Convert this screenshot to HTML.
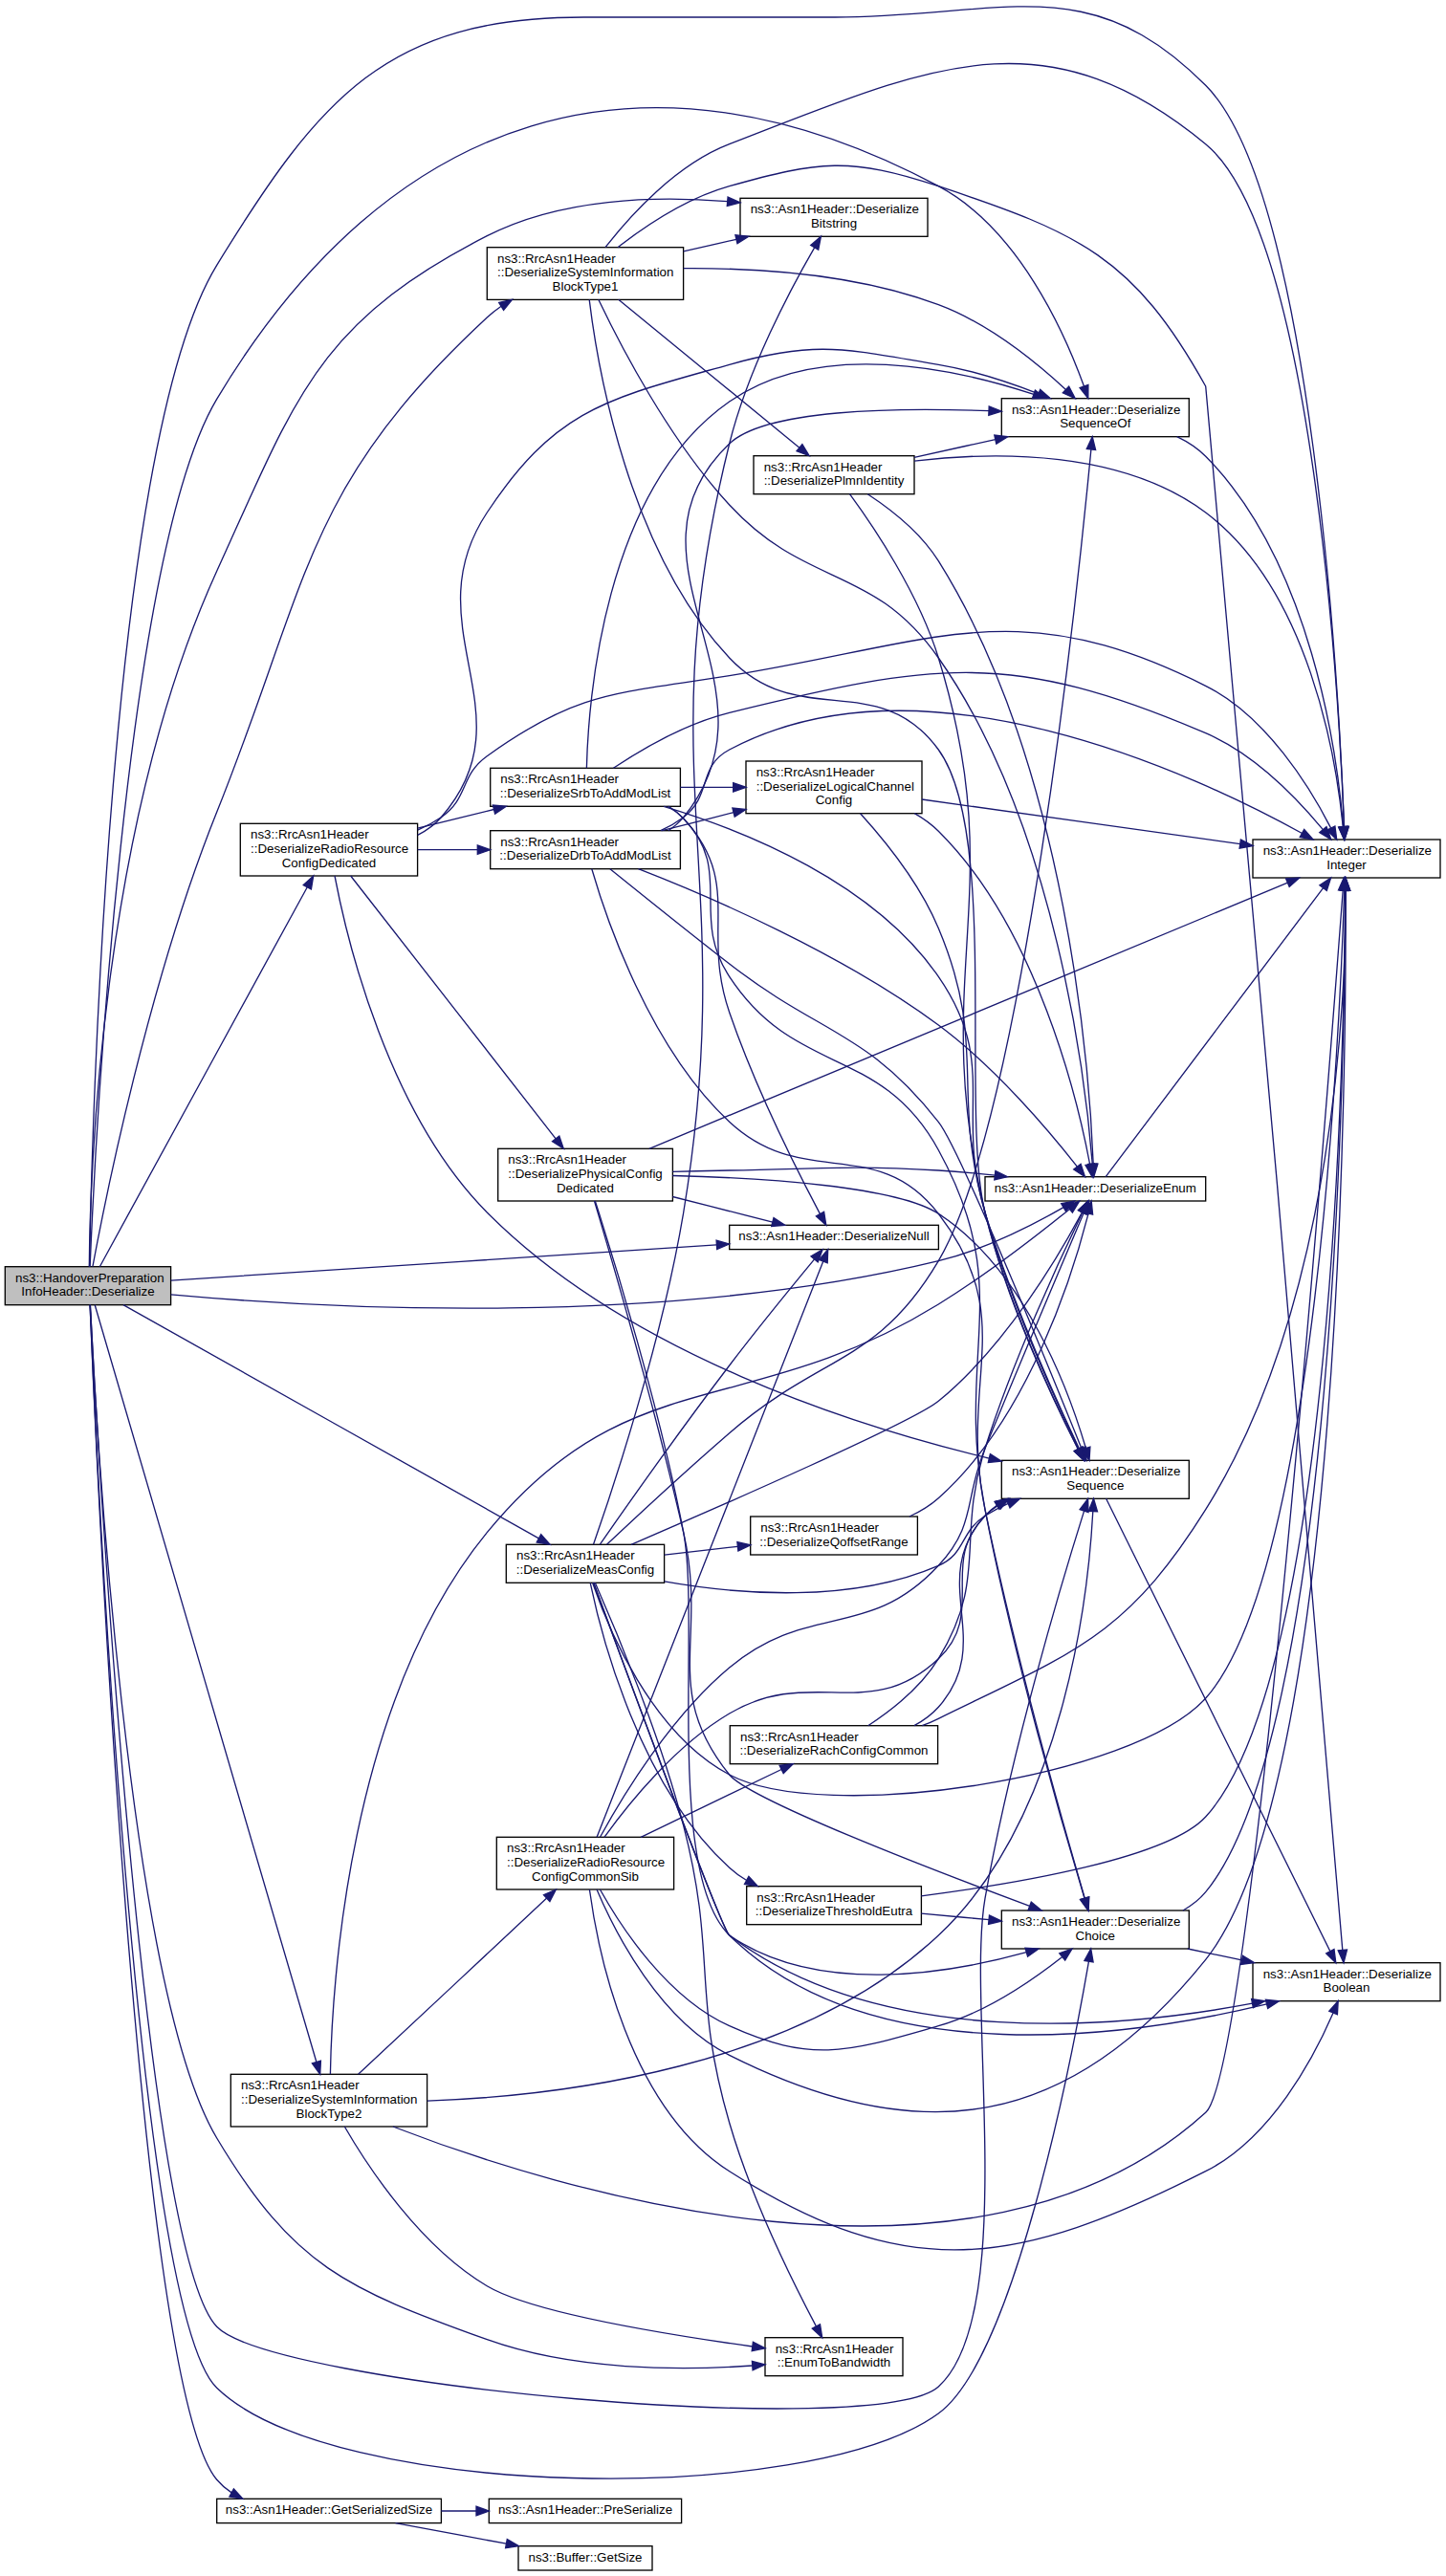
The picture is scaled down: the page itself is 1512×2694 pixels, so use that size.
<!DOCTYPE html>
<html><head><meta charset="utf-8"><title>ns3::HandoverPreparationInfoHeader::Deserialize</title>
<style>html,body{margin:0;padding:0;background:#fff}svg{display:block}text{font-family:"Liberation Sans","Helvetica","Arial",sans-serif;font-size:13.33px;fill:#000}.e{fill:none;stroke:#191970;stroke-width:1.33}.a{fill:#191970;stroke:#191970;stroke-width:1.33}.n{fill:#fff;stroke:#000;stroke-width:1.33}.r{fill:#bfbfbf;stroke:#000;stroke-width:1.33}</style></head><body>
<svg xmlns="http://www.w3.org/2000/svg" width="1512" height="2694" viewBox="0 0 1512 2694">
<rect x="0" y="0" width="1512" height="2694" fill="#fff"/>
<rect class="r" x="5.3" y="1324.7" width="173.3" height="40"/>
<text x="16" y="1340.7">ns3::HandoverPreparation</text>
<text x="92" y="1355.3" text-anchor="middle">InfoHeader::Deserialize</text>
<rect class="n" x="251.3" y="861.3" width="185.3" height="54.7"/>
<text x="262" y="877.3">ns3::RrcAsn1Header</text>
<text x="262" y="892">::DeserializeRadioResource</text>
<text x="344" y="906.7" text-anchor="middle">ConfigDedicated</text>
<rect class="n" x="241.3" y="2169.3" width="205.3" height="54.7"/>
<text x="252" y="2185.3">ns3::RrcAsn1Header</text>
<text x="252" y="2200">::DeserializeSystemInformation</text>
<text x="344" y="2214.7" text-anchor="middle">BlockType2</text>
<rect class="n" x="226.7" y="2613.3" width="234.7" height="25.3"/>
<text x="344" y="2629.3" text-anchor="middle">ns3::Asn1Header::GetSerializedSize</text>
<rect class="n" x="509.3" y="258.7" width="205.3" height="54.7"/>
<text x="520" y="274.7">ns3::RrcAsn1Header</text>
<text x="520" y="289.3">::DeserializeSystemInformation</text>
<text x="612" y="304" text-anchor="middle">BlockType1</text>
<rect class="n" x="512.7" y="803.3" width="198.7" height="40"/>
<text x="523.3" y="819.3">ns3::RrcAsn1Header</text>
<text x="612" y="834" text-anchor="middle">::DeserializeSrbToAddModList</text>
<rect class="n" x="512.7" y="868.7" width="198.7" height="40"/>
<text x="523.3" y="884.7">ns3::RrcAsn1Header</text>
<text x="612" y="899.3" text-anchor="middle">::DeserializeDrbToAddModList</text>
<rect class="n" x="520.7" y="1201.3" width="182.7" height="54.7"/>
<text x="531.3" y="1217.3">ns3::RrcAsn1Header</text>
<text x="531.3" y="1232">::DeserializePhysicalConfig</text>
<text x="612" y="1246.7" text-anchor="middle">Dedicated</text>
<rect class="n" x="529.3" y="1615.3" width="165.3" height="40"/>
<text x="540" y="1631.3">ns3::RrcAsn1Header</text>
<text x="612" y="1646" text-anchor="middle">::DeserializeMeasConfig</text>
<rect class="n" x="519.3" y="1921.3" width="185.3" height="54.7"/>
<text x="530" y="1937.3">ns3::RrcAsn1Header</text>
<text x="530" y="1952">::DeserializeRadioResource</text>
<text x="612" y="1966.7" text-anchor="middle">ConfigCommonSib</text>
<rect class="n" x="511.3" y="2613.3" width="201.3" height="25.3"/>
<text x="612" y="2629.3" text-anchor="middle">ns3::Asn1Header::PreSerialize</text>
<rect class="n" x="542" y="2662.7" width="140" height="25.3"/>
<text x="612" y="2678.7" text-anchor="middle">ns3::Buffer::GetSize</text>
<rect class="n" x="774" y="207.3" width="196" height="40"/>
<text x="784.7" y="223.3">ns3::Asn1Header::Deserialize</text>
<text x="872" y="238" text-anchor="middle">Bitstring</text>
<rect class="n" x="788" y="476.7" width="168" height="40"/>
<text x="798.7" y="492.7">ns3::RrcAsn1Header</text>
<text x="872" y="507.3" text-anchor="middle">::DeserializePlmnIdentity</text>
<rect class="n" x="780" y="796" width="184" height="54.7"/>
<text x="790.7" y="812">ns3::RrcAsn1Header</text>
<text x="790.7" y="826.7">::DeserializeLogicalChannel</text>
<text x="872" y="841.3" text-anchor="middle">Config</text>
<rect class="n" x="762.7" y="1281.3" width="218.7" height="25.3"/>
<text x="872" y="1297.3" text-anchor="middle">ns3::Asn1Header::DeserializeNull</text>
<rect class="n" x="784.7" y="1586" width="174.7" height="40"/>
<text x="795.3" y="1602">ns3::RrcAsn1Header</text>
<text x="872" y="1616.7" text-anchor="middle">::DeserializeQoffsetRange</text>
<rect class="n" x="763.3" y="1804.7" width="217.3" height="40"/>
<text x="774" y="1820.7">ns3::RrcAsn1Header</text>
<text x="872" y="1835.3" text-anchor="middle">::DeserializeRachConfigCommon</text>
<rect class="n" x="780.7" y="1972.7" width="182.7" height="40"/>
<text x="791.3" y="1988.7">ns3::RrcAsn1Header</text>
<text x="872" y="2003.3" text-anchor="middle">::DeserializeThresholdEutra</text>
<rect class="n" x="800" y="2444.7" width="144" height="40"/>
<text x="810.7" y="2460.7">ns3::RrcAsn1Header</text>
<text x="872" y="2475.3" text-anchor="middle">::EnumToBandwidth</text>
<rect class="n" x="1047.3" y="416.7" width="196" height="40"/>
<text x="1058" y="432.7">ns3::Asn1Header::Deserialize</text>
<text x="1145.3" y="447.3" text-anchor="middle">SequenceOf</text>
<rect class="n" x="1030" y="1230.7" width="230.7" height="25.3"/>
<text x="1145.3" y="1246.7" text-anchor="middle">ns3::Asn1Header::DeserializeEnum</text>
<rect class="n" x="1047.3" y="1527.3" width="196" height="40"/>
<text x="1058" y="1543.3">ns3::Asn1Header::Deserialize</text>
<text x="1145.3" y="1558" text-anchor="middle">Sequence</text>
<rect class="n" x="1047.3" y="1998" width="196" height="40"/>
<text x="1058" y="2014">ns3::Asn1Header::Deserialize</text>
<text x="1145.3" y="2028.7" text-anchor="middle">Choice</text>
<rect class="n" x="1310" y="878" width="196" height="40"/>
<text x="1320.7" y="894">ns3::Asn1Header::Deserialize</text>
<text x="1408" y="908.7" text-anchor="middle">Integer</text>
<rect class="n" x="1310" y="2052.7" width="196" height="40"/>
<text x="1320.7" y="2068.7">ns3::Asn1Header::Deserialize</text>
<text x="1408" y="2083.3" text-anchor="middle">Boolean</text>
<path class="e" d="M436.7,888.7C456.9,888.7 478.5,888.7 499.3,888.7"/><polygon class="a" points="512.7,888.7 499.3,893.3 499.3,884"/>
<path class="e" d="M711.3,823.3C729.4,823.3 748.4,823.3 766.7,823.3"/><polygon class="a" points="780,823.3 766.7,828 766.7,818.7"/>
<path class="e" d="M461.3,2626C473.5,2626 485.9,2626 498,2626"/><polygon class="a" points="511.3,2626 498,2630.7 498,2621.3"/>
<path class="e" d="M963.3,2001.1C986,2003.2 1010.6,2005.5 1034.1,2007.7"/><polygon class="a" points="1047.3,2009 1033.6,2012.4 1034.5,2003.1"/>
<path class="e" d="M694.7,1626.1C719,1623.3 746,1620.2 771.4,1617.3"/><polygon class="a" points="784.7,1615.8 771.9,1621.9 770.9,1612.7"/>
<path class="e" d="M413.5,2638.7C448.8,2645.2 492.3,2653.3 529.4,2660.2"/><polygon class="a" points="542.5,2662.7 528.6,2664.8 530.3,2655.6"/>
<path class="e" d="M1241.8,2038C1260.2,2041.9 1279.7,2046 1298.5,2049.9"/><polygon class="a" points="1311.5,2052.7 1297.5,2054.5 1299.5,2045.4"/>
<path class="e" d="M714.7,262.9C732.8,258.8 751.8,254.4 769.9,250.3"/><polygon class="a" points="782.9,247.3 771,254.8 768.9,245.7"/>
<path class="e" d="M956,478.3C982.7,472.4 1012.7,465.8 1040.8,459.6"/><polygon class="a" points="1053.8,456.7 1041.8,464.1 1039.8,455"/>
<path class="e" d="M692.1,868.7C715.8,862.7 742.1,856 767.1,849.6"/><polygon class="a" points="780,846.4 768.2,854.2 765.9,845.1"/>
<path class="e" d="M703.3,1251.5C737.8,1260.3 776.4,1270.1 807.9,1278.1"/><polygon class="a" points="820.8,1281.3 806.7,1282.6 809,1273.5"/>
<path class="e" d="M436.7,866.2C462.5,859.8 490.5,852.9 516.5,846.5"/><polygon class="a" points="529.4,843.3 517.6,851.1 515.4,842"/>
<path class="e" d="M670.1,1921.3C713.9,1900.2 774.1,1871.2 817.1,1850.5"/><polygon class="a" points="829.2,1844.7 819.2,1854.7 815.1,1846.3"/>
<path class="e" d="M646.7,313.3C695.6,353.4 786.3,427.6 835.9,468.2"/><polygon class="a" points="846.2,476.7 833,471.8 838.9,464.6"/>
<path class="e" d="M374.6,2169.3C422.6,2124.5 518,2035.3 571.7,1985.1"/><polygon class="a" points="581.4,1976 574.9,1988.5 568.5,1981.7"/>
<path class="e" d="M955.9,1804.7C965.4,1799.6 974.2,1793.3 981.3,1785.3C1042.3,1717.2 968.1,1652.7 1030,1585.3C1033.7,1581.3 1037.9,1577.6 1042.4,1574.4"/><polygon class="a" points="1053.8,1567.3 1044.9,1578.3 1040,1570.4"/>
<path class="e" d="M366.7,916C413.9,976.5 527.2,1121.7 581.1,1190.8"/><polygon class="a" points="589.3,1201.3 577.5,1193.7 584.8,1188"/>
<path class="e" d="M627.2,1615.3C653.2,1578 711.2,1495.6 762.7,1428C792.9,1388.3 829.7,1343.4 851.6,1316.9"/><polygon class="a" points="860.1,1306.7 855.2,1319.9 848,1313.9"/>
<path class="e" d="M1156.2,1230.7C1193.3,1181.3 1328.9,1001.3 1383.6,928.7"/><polygon class="a" points="1391.6,918 1387.3,931.5 1379.9,925.8"/>
<path class="e" d="M617.2,1655.3C628.8,1710.7 668.8,1867.6 762.7,1953.3C768.1,1958.3 774.2,1962.7 780.7,1966.5"/><polygon class="a" points="792.5,1972.7 778.5,1970.6 782.9,1962.3"/>
<path class="e" d="M950.9,1586C961.9,1580.9 972.5,1574.6 981.3,1566.7C1076.3,1482.2 1122.7,1329.4 1138.1,1269"/><polygon class="a" points="1141.2,1256 1142.6,1270.1 1133.5,1267.8"/>
<path class="e" d="M956.3,850.7C965.4,855.9 974,862.1 981.3,869.3C1084.7,971.9 1127,1151.1 1139.6,1217.5"/><polygon class="a" points="1142,1230.7 1135,1218.4 1144.2,1216.7"/>
<path class="e" d="M104.3,1324.7C142.4,1254.8 270.3,1021.1 321.3,927.7"/><polygon class="a" points="327.7,916 325.4,929.9 317.2,925.5"/>
<path class="e" d="M1230.7,456.7C1241.8,462 1252.2,468.8 1260.7,477.3C1370.7,588.3 1398,786.3 1404.6,864.7"/><polygon class="a" points="1405.6,878 1400,865.1 1409.3,864.3"/>
<path class="e" d="M699.1,843.3C704.8,846.9 710.1,851.1 714.7,856C777.5,924 732.5,971.1 762.7,1058.7C790.1,1138.4 835.3,1227.5 857.5,1269.6"/><polygon class="a" points="863.8,1281.3 853.4,1271.8 861.6,1267.4"/>
<path class="e" d="M1156.6,1567.3C1196,1647 1342.3,1942.5 1390.9,2040.7"/><polygon class="a" points="1396.8,2052.7 1386.7,2042.8 1395,2038.6"/>
<path class="e" d="M907.7,1804.7C932,1788.8 963.3,1764.3 981.3,1734.7C1033.4,1649.1 999.7,1610.1 1030,1514.7C1059.8,1421 1109.1,1315 1131.9,1268"/><polygon class="a" points="1137.7,1256 1136.1,1270 1127.7,1265.9"/>
<path class="e" d="M624.1,1921.3C666.3,1814 820.2,1422.3 860.8,1319.1"/><polygon class="a" points="865.7,1306.7 865.2,1320.8 856.5,1317.4"/>
<path class="e" d="M899.6,850.7C924.8,878.5 961.8,924.1 981.3,970.7C1033.2,1094.1 993.7,1139.1 1030,1268C1056.1,1360.7 1103.5,1464.3 1128.2,1515.3"/><polygon class="a" points="1134,1527.3 1124,1517.4 1132.4,1513.3"/>
<path class="e" d="M907.3,516.7C931.5,532.6 962.9,557.2 981.3,586.7C1116.6,802.7 1139.4,1124.4 1143.2,1217.3"/><polygon class="a" points="1143.7,1230.7 1138.6,1217.5 1147.9,1217.2"/>
<path class="e" d="M622.3,1655.3C642,1700 689.3,1811.5 714.7,1909.3C749.7,2044.6 723.5,2085.9 762.7,2220C785.9,2299.6 829.3,2387.2 853.4,2432.9"/><polygon class="a" points="859.7,2444.7 849.3,2435.1 857.5,2430.7"/>
<path class="e" d="M99.2,1364.7C131.3,1474.6 286.7,2005.5 330.9,2156.5"/><polygon class="a" points="334.7,2169.3 326.4,2157.8 335.4,2155.2"/>
<path class="e" d="M888.5,516.7C913,550.1 960.5,620.3 981.3,688C1057.5,935.2 969.6,1016.5 1030,1268C1052.5,1361.6 1101.4,1464.7 1127.2,1515.5"/><polygon class="a" points="1133.3,1527.3 1123.1,1517.6 1131.4,1513.3"/>
<path class="e" d="M1237,1998C1246,1992.9 1254.2,1986.6 1260.7,1978.7C1396.5,1812.9 1406.3,1095.1 1406.7,931.3"/><polygon class="a" points="1406.7,918 1411.4,931.3 1402,931.3"/>
<path class="e" d="M94.1,1364.7C100.4,1517.3 143.7,2495.1 226.7,2593.3C231.1,2598.6 236.4,2603.1 242.2,2606.9"/><polygon class="a" points="253.9,2613.3 239.9,2611 244.4,2602.8"/>
<path class="e" d="M620.5,1615.3C639.6,1560.6 692.2,1403.4 714.7,1268C773.3,914.9 676.2,811.4 762.7,464C782,386.4 826.2,302.9 851.7,258.8"/><polygon class="a" points="858.4,247.3 855.7,261.2 847.7,256.5"/>
<path class="e" d="M703.3,1225.4C722.9,1224.8 743.5,1224.3 762.7,1224C859.8,1222.5 884.3,1218.3 981.3,1224C1000.5,1225.1 1020.8,1227 1040.4,1229.2"/><polygon class="a" points="1053.6,1230.7 1039.8,1233.8 1040.9,1224.5"/>
<path class="e" d="M627.4,1976C649.8,2016.1 697.7,2089.3 762.7,2118.7C851.2,2158.7 887.9,2145.3 981.3,2118.7C1030.6,2104.6 1079.6,2070.9 1110.8,2046.4"/><polygon class="a" points="1121.1,2038 1113.7,2050 1107.8,2042.7"/>
<path class="e" d="M964,836C1056,848.9 1198.5,868.8 1296.8,882.6"/><polygon class="a" points="1310,884.5 1296.1,887.2 1297.4,878"/>
<path class="e" d="M694.7,1653.9C771.8,1667.5 889.3,1677.2 981.3,1637.3C1010.4,1624.7 1003.4,1602.4 1030,1585.3C1037.5,1580.5 1045.8,1576.2 1054.2,1572.4"/><polygon class="a" points="1066.5,1567.3 1056,1576.8 1052.4,1568.1"/>
<path class="e" d="M714.7,280.7C790.4,280.1 895.3,286.5 981.3,318.7C1033.6,338.2 1084,379.4 1114.5,407.5"/><polygon class="a" points="1124.2,416.7 1111.3,410.9 1117.7,404.1"/>
<path class="e" d="M360.3,2224C385.1,2266.8 439.4,2349.2 509.3,2390.7C555.3,2418 695.2,2441.1 786.8,2454"/><polygon class="a" points="800,2455.8 786.2,2458.6 787.4,2449.3"/>
<path class="e" d="M128.9,1364.7C219.9,1415.8 460.9,1551.2 563.4,1608.8"/><polygon class="a" points="575.1,1615.3 561.2,1612.9 565.7,1604.7"/>
<path class="e" d="M703.3,1229.5C797.3,1231.9 936.9,1240.5 981.3,1269.3C1071.2,1327.7 1117.7,1454.4 1135.4,1514.5"/><polygon class="a" points="1139,1527.3 1130.9,1515.8 1139.9,1513.2"/>
<path class="e" d="M667.5,908.7C742.3,937.8 879.6,996.8 981.3,1072C1041.5,1116.5 1098.6,1184.7 1126.4,1220.1"/><polygon class="a" points="1134.5,1230.7 1122.7,1223 1130.1,1217.3"/>
<path class="e" d="M620.7,1655.3C649.6,1734 754.5,2018.4 762.7,2024C854.7,2087.3 991.1,2064.5 1073.3,2041.7"/><polygon class="a" points="1086.2,2038 1074.6,2046.2 1072,2037.2"/>
<path class="e" d="M613.4,803.3C615,735.3 630.5,512 762.7,420C857.3,354.1 999.5,385.5 1080.9,412.4"/><polygon class="a" points="1093.5,416.7 1079.4,416.8 1082.4,408"/>
<path class="e" d="M660,1615.3C753,1575.3 954.6,1487.2 981.3,1465.3C1052,1407.5 1107.8,1312.4 1131.5,1267.8"/><polygon class="a" points="1137.7,1256 1135.7,1270 1127.4,1265.7"/>
<path class="e" d="M956,482.1C1041,472 1173,470.2 1260.7,536C1368.7,617.2 1397,791.6 1404.3,864.7"/><polygon class="a" points="1405.5,878 1399.6,865.1 1408.9,864.3"/>
<path class="e" d="M631.9,1921.3C657.3,1886.1 706.2,1825.3 762.7,1792C849.2,1741 908.2,1803.6 981.3,1734.7C1032.1,1686.8 980.8,1634.9 1030,1585.3C1034.2,1581.1 1038.8,1577.4 1043.8,1574.1"/><polygon class="a" points="1055.3,1567.3 1046.2,1578.1 1041.5,1570"/>
<path class="e" d="M698.8,868.7C704.8,864.8 710.2,860.2 714.7,854.7C825.3,719.2 635.9,584.5 762.7,464C800.4,428.1 935.3,426 1034,429.7"/><polygon class="a" points="1047.3,430.2 1033.8,434.3 1034.2,425"/>
<path class="e" d="M637.9,908.7C667.4,932.5 718.4,973.6 762.7,1008C858.9,1082.8 906,1077.6 981.3,1173.3C1004,1202.2 1096.6,1429.5 1131,1515"/><polygon class="a" points="1136,1527.3 1126.7,1516.7 1135.4,1513.2"/>
<path class="e" d="M627.5,1921.3C650.8,1878.7 700.7,1795.9 762.7,1744C845.6,1674.6 907.8,1716.6 981.3,1637.3C1021.2,1594.3 1007.8,1569 1030,1514.7C1067.2,1423.6 1113,1316 1133.3,1268.3"/><polygon class="a" points="1138.6,1256 1137.6,1270.1 1129,1266.4"/>
<path class="e" d="M694.1,843.3C780.2,869.2 913.3,923 981.3,1021.3C1044.9,1113.2 997.9,1161 1030,1268C1057.6,1360.3 1104.4,1464.1 1128.5,1515.3"/><polygon class="a" points="1134.3,1527.3 1124.3,1517.3 1132.8,1513.3"/>
<path class="e" d="M621.5,1256C639.8,1317.5 684.6,1471.8 714.7,1602.7C740.3,1714.4 690.8,1766.8 762.7,1856C783.5,1881.9 972.9,1954.8 1076.7,1993.4"/><polygon class="a" points="1089.2,1998 1075.1,1997.7 1078.3,1989"/>
<path class="e" d="M964.2,1804.7C970.1,1802.5 975.9,1800 981.3,1797.3C1122.9,1727.9 1177.1,1712.3 1260.7,1578.7C1396.9,1360.9 1407.6,1035.5 1407.2,931.3"/><polygon class="a" points="1407.1,918 1411.9,931.3 1402.6,931.4"/>
<path class="e" d="M625.8,313.3C648.4,360.7 699.5,459.6 762.7,528C844.4,616.4 912.1,589.4 981.3,688C1104.7,863.8 1135.5,1133.3 1142.3,1217.4"/><polygon class="a" points="1143.2,1230.7 1137.6,1217.7 1146.9,1217"/>
<path class="e" d="M96.9,1324.7C109.6,1256.5 155.2,1027.4 226.7,849.3C324.2,606.2 317.3,510.3 509.3,332C513.9,327.8 518.9,323.9 524.1,320.3"/><polygon class="a" points="535.5,313.3 526.6,324.3 521.7,316.4"/>
<path class="e" d="M963.3,1982.8C1064.9,1969.7 1221.2,1943.2 1260.7,1900C1394.3,1753.8 1405.8,1088.5 1406.6,931.3"/><polygon class="a" points="1406.7,918 1411.3,931.4 1402,931.3"/>
<path class="e" d="M618.8,908.7C633.5,959.5 679,1095.2 762.7,1173.3C840.3,1245.7 916.5,1185.3 981.3,1269.3C1066.3,1379.6 1001.7,1442.4 1030,1578.7C1061.9,1732.2 1113.1,1912.5 1134.3,1985.2"/><polygon class="a" points="1138.1,1998 1129.8,1986.5 1138.8,1983.9"/>
<path class="e" d="M698.4,843.3C704.4,846.9 709.9,851.1 714.7,856C768,910.9 720.7,957.4 762.7,1021.3C831.9,1126.9 920.4,1092.1 981.3,1202.7C1062.6,1350.3 998,1413.2 1030,1578.7C1059.8,1732.6 1112.2,1912.7 1134,1985.2"/><polygon class="a" points="1137.9,1998 1129.5,1986.6 1138.5,1983.9"/>
<path class="e" d="M634.5,1615.3C663.1,1588.4 716.1,1539.1 762.7,1498.7C857.7,1416.1 917.5,1427.1 981.3,1318.7C1069.3,1169.3 1127.3,612.3 1140.9,469.9"/><polygon class="a" points="1142.2,456.7 1145.6,470.4 1136.3,469.5"/>
<path class="e" d="M616.2,313.3C624.9,384.3 657.5,576.5 762.7,688C835.5,765.2 918.9,698.2 981.3,784C1044.9,871.4 1003.9,1163.1 1030,1268C1053.2,1361.4 1101.8,1464.6 1127.4,1515.4"/><polygon class="a" points="1133.5,1527.3 1123.3,1517.6 1131.6,1513.3"/>
<path class="e" d="M690.8,868.7C699.3,864.8 707.4,860.1 714.7,854.7C744.9,831.7 729.1,801.8 762.7,784C966.4,676.1 1251.9,811 1361.5,871.5"/><polygon class="a" points="1373.1,878 1359.2,875.6 1363.7,867.4"/>
<path class="e" d="M178.7,1339.1C317,1330.1 590.8,1312.2 749.4,1301.9"/><polygon class="a" points="762.7,1301 749.7,1306.6 749.1,1297.2"/>
<path class="e" d="M641.4,803.3C670.3,784.1 717.2,756.5 762.7,745.3C977.8,692.5 1057,679.5 1260.7,766.7C1312,788.6 1357.3,836.2 1383.4,867.6"/><polygon class="a" points="1391.8,878 1379.8,870.6 1387,864.7"/>
<path class="e" d="M616.4,1976C625.2,2040.8 657.4,2203.4 762.7,2270.7C949.2,2389.8 1063.1,2370.5 1260.7,2270.7C1329.5,2235.9 1373.9,2151.6 1394.1,2105"/><polygon class="a" points="1399.2,2092.7 1398.4,2106.8 1389.8,2103.2"/>
<path class="e" d="M678.9,1201.3C830,1138.4 1200.6,983.9 1346.4,923.1"/><polygon class="a" points="1358.7,918 1348.2,927.4 1344.6,918.8"/>
<path class="e" d="M620.7,1655.3C649.7,1734 754.7,2018 762.7,2024C922.2,2145.1 1172.7,2120.9 1309.5,2095.2"/><polygon class="a" points="1322.6,2092.7 1310.4,2099.8 1308.6,2090.6"/>
<path class="e" d="M436.7,873.3C446,868.6 454.5,862.5 461.3,854.7C555.5,746.8 430.1,655.3 509.3,536C582.3,426.1 635.7,417 762.7,381.3C856.2,355 885.5,365.5 981.3,381.3C1017.1,387.2 1055.5,400 1086,411.8"/><polygon class="a" points="1098.4,416.7 1084.3,416.1 1087.7,407.4"/>
<path class="e" d="M633,258.7C658.6,225.8 706.6,172.3 762.7,150.7C969.2,71 1089.8,10 1260.7,150.7C1373.3,243.4 1400.2,731.9 1405.5,864.7"/><polygon class="a" points="1406,878 1400.9,864.9 1410.2,864.5"/>
<path class="e" d="M446.7,2197.1C585.2,2192.2 833.4,2162.8 981.3,2024C1112.7,1900.7 1138,1667.2 1142.8,1580.7"/><polygon class="a" points="1143.5,1567.3 1147.5,1580.9 1138.2,1580.4"/>
<path class="e" d="M350,916C363.1,984.2 406,1164 509.3,1268C656.5,1416.1 895.4,1491.7 1034.4,1525.1"/><polygon class="a" points="1047.3,1528.2 1033.3,1529.6 1035.4,1520.6"/>
<path class="e" d="M619.6,1655.3C635.2,1701 680.5,1812.4 762.7,1856C861.7,1908.5 1186.1,1859.6 1260.7,1776C1375.4,1647.3 1401.1,1075.9 1405.7,931.3"/><polygon class="a" points="1406.2,918 1410.4,931.5 1401.1,931.2"/>
<path class="e" d="M622.3,1256C642,1317.3 689.4,1470.8 714.7,1602.7C732.4,1695.2 695.4,1958 762.7,2024C912.5,2171 1187.5,2129 1324.6,2095.9"/><polygon class="a" points="1337.5,2092.7 1325.7,2100.4 1323.4,2091.3"/>
<path class="e" d="M345.4,2169.3C347,2078.2 363.7,1780.5 509.3,1602.7C658.2,1420.8 781.3,1487.5 981.3,1364C1032.2,1332.6 1087.2,1289.7 1118.5,1264.4"/><polygon class="a" points="1128.8,1256 1121.4,1268 1115.5,1260.8"/>
<path class="e" d="M624,1976C643.5,2021.8 689.8,2112.7 762.7,2149.3C964.4,2250.7 1119.3,2225.4 1260.7,2049.3C1404.1,1870.8 1407.9,1101.3 1407,931.3"/><polygon class="a" points="1406.9,918 1411.6,931.3 1402.3,931.4"/>
<path class="e" d="M93.3,1324.7C94,1235.3 104.5,865.5 226.7,597.3C309.7,415.2 331.1,337.8 509.3,246.7C586.6,207.1 685.8,204.6 760.7,210.7"/><polygon class="a" points="774,211.9 760.3,215.4 761.1,206.1"/>
<path class="e" d="M94.3,1364.7C100.1,1482 134,2081.2 226.7,2236C307.1,2370.4 361.9,2393.7 509.3,2446.7C600,2479.3 711.7,2479.3 786.7,2474"/><polygon class="a" points="800,2473 787.1,2478.7 786.4,2469.4"/>
<path class="e" d="M646,258.7C674.6,236.5 718.6,207.1 762.7,194.7C856.2,168.3 889.1,164 981.3,194.7C1128.5,243.7 1185.3,268.4 1260.7,404C1265.8,413.3 1384,1805.1 1403.8,2039.4"/><polygon class="a" points="1405,2052.7 1399.2,2039.8 1408.5,2039"/>
<path class="e" d="M436.7,868.1C445.4,864.4 453.8,859.9 461.3,854.7C490.6,834.4 480.5,811.4 509.3,790.7C605.6,721.4 645.6,725.6 762.7,706.7C981.2,671.4 1062.8,618.1 1260.7,717.3C1324.4,749.3 1369.8,823.3 1391.7,866.1"/><polygon class="a" points="1397.7,878 1387.5,868.1 1395.9,864"/>
<path class="e" d="M178.7,1353.8C338.8,1368.3 693.9,1388.6 981.3,1318.7C1029.3,1307 1080.2,1280.9 1112.1,1262.7"/><polygon class="a" points="1123.6,1256 1114.4,1266.7 1109.7,1258.7"/>
<path class="e" d="M94.4,1364.7C101.8,1506.1 149.6,2352.6 226.7,2433.3C284.8,2494.2 919.1,2552.6 981.3,2496C1065.7,2419.3 1010.2,2097.6 1030,1985.3C1057.2,1831.5 1110.9,1652.3 1133.6,1580.1"/><polygon class="a" points="1137.6,1567.3 1138,1581.5 1129.1,1578.6"/>
<path class="e" d="M94.1,1364.7C100.3,1511.1 141.7,2414.9 226.7,2497.3C347.1,2614.2 845.7,2622.8 981.3,2524C1060.7,2466.1 1120.6,2154.3 1138.5,2051.1"/><polygon class="a" points="1140.7,2038 1143.1,2051.9 1133.9,2050.4"/>
<path class="e" d="M94.1,1324.7C99.2,1204.5 130.1,578.6 226.7,417.3C406.3,117.3 672.7,30.2 981.3,194.7C1065.4,239.4 1113.7,349.1 1133.5,404.1"/><polygon class="a" points="1137.8,416.7 1129.1,405.6 1137.9,402.5"/>
<path class="e" d="M410.9,2224C577.3,2288.5 1019.8,2429 1260.7,2209.3C1309.6,2164.7 1389.2,1131.2 1404.2,931.3"/><polygon class="a" points="1405.2,918 1408.9,931.6 1399.5,930.9"/>
<path class="e" d="M93.6,1324.7C95.8,1194.1 112.9,462.7 226.7,277.3C334.4,101.8 404.7,18 610.7,18C610.7,18 610.7,18 873.3,18C1048.4,18 1137.1,-34.7 1260.7,89.3C1372.4,201.4 1400.1,726.6 1405.5,864.7"/><polygon class="a" points="1406,878 1400.9,864.9 1410.2,864.5"/>
</svg></body></html>
